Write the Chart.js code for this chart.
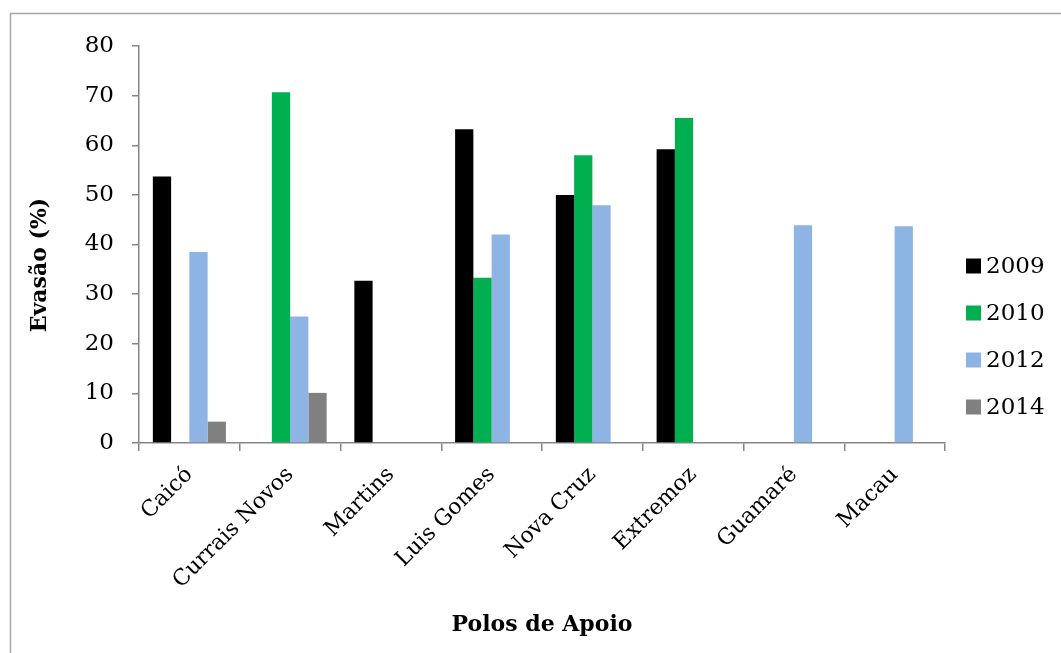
<!DOCTYPE html>
<html>
<head>
<meta charset="utf-8">
<title>Evasão por polo de apoio</title>
<script src="https://cdn.jsdelivr.net/npm/chart.js@4.4.1/dist/chart.umd.min.js"></script>
<style>
  html, body { margin: 0; padding: 0; background: #ffffff; }
  #wrap { position: relative; width: 1061px; height: 653px; }
</style>
</head>
<body>
<div id="wrap"><canvas id="chart" width="1061" height="653"></canvas></div>
<script>
// Polos de apoio (categorias do eixo X)
const polos = ['Caicó', 'Currais Novos', 'Martins', 'Luis Gomes', 'Nova Cruz', 'Extremoz', 'Guamaré', 'Macau'];

// Taxa de evasão (%) por ano; null = sem turma naquele ano
const ano2009 = [53.7, null, 32.7, 63.2, 50.0, 59.2, null, null];
const ano2010 = [null, 70.7, null, 33.3, 58.0, 65.5, null, null];
const ano2012 = [38.5, 25.5, null, 42.0, 47.9, null, 43.9, 43.7];
const ano2014 = [4.3, 10.1, null, null, null, null, null, null];

// Valores do eixo Y
const yMin = 0;
const yMax = 80;
const yStep = 10;

const anos = ['2009', '2010', '2012', '2014'];
const cores = ['#000000', '#00B050', '#8EB4E3', '#808080'];

const AXIS_GRAY = '#868686';
const SERIF = '"DejaVu Serif", "Liberation Serif", serif';

// Moldura, títulos dos eixos e legenda desenhados sobre o canvas
const decoracao = {
  id: 'decoracao',
  beforeDraw(chart) {
    const ctx = chart.ctx;
    ctx.save();
    ctx.strokeStyle = '#a6a6a6';
    ctx.lineWidth = 1.5;
    ctx.beginPath();
    ctx.moveTo(10.5, 700);
    ctx.lineTo(10.5, 13.5);
    ctx.lineTo(1100, 13.5);
    ctx.stroke();
    ctx.restore();
  },
  afterDraw(chart) {
    const ctx = chart.ctx;
    const area = chart.chartArea;
    ctx.save();
    ctx.fillStyle = '#000000';

    // Título do eixo X
    ctx.font = 'bold 22px ' + SERIF;
    ctx.textAlign = 'center';
    ctx.textBaseline = 'alphabetic';
    ctx.fillText('Polos de Apoio', (area.left + area.right) / 2, 631);

    // Título do eixo Y
    ctx.save();
    ctx.translate(46, 265);
    ctx.rotate(-Math.PI / 2);
    ctx.fillText('Evasão (%)', 0, 0);
    ctx.restore();

    // Legenda
    ctx.font = '23px ' + SERIF;
    ctx.textAlign = 'left';
    ctx.textBaseline = 'middle';
    chart.data.datasets.forEach((ds, i) => {
      const cy = 266 + i * 47;
      ctx.fillStyle = ds.backgroundColor;
      ctx.fillRect(966, cy - 7.5, 15, 15);
      ctx.fillStyle = '#000000';
      ctx.fillText(ds.label, 986, cy + 1);
    });
    ctx.restore();
  }
};

new Chart(document.getElementById('chart'), {
  type: 'bar',
  data: {
    labels: polos,
    datasets: [ano2009, ano2010, ano2012, ano2014].map((valores, i) => ({
      label: anos[i],
      data: valores,
      backgroundColor: cores[i],
      borderWidth: 0,
      barPercentage: 1.0,
      categoryPercentage: 0.725
    }))
  },
  options: {
    responsive: false,
    animation: false,
    devicePixelRatio: 1,
    layout: { padding: { top: 46, right: 116, bottom: 0, left: 0 } },
    plugins: {
      legend: { display: false },
      title: { display: false },
      tooltip: { enabled: false }
    },
    scales: {
      x: {
        afterFit(scale) { scale.height = 210; },
        grid: {
          display: true,
          drawOnChartArea: false,
          drawTicks: true,
          tickLength: 8,
          color: AXIS_GRAY,
          lineWidth: 1.5,
          offset: true
        },
        border: { color: AXIS_GRAY, width: 1.5 },
        ticks: {
          color: '#000000',
          font: { family: SERIF, size: 22 },
          minRotation: 45,
          maxRotation: 45,
          autoSkip: false,
          padding: 11
        }
      },
      y: {
        min: yMin,
        max: yMax,
        afterFit(scale) { scale.width = 139; },
        grid: {
          display: true,
          drawOnChartArea: false,
          drawTicks: true,
          tickLength: 7,
          color: AXIS_GRAY,
          lineWidth: 1.5
        },
        border: { color: AXIS_GRAY, width: 1.5 },
        ticks: {
          stepSize: yStep,
          color: '#000000',
          font: { family: SERIF, size: 23 },
          padding: 18
        }
      }
    }
  },
  plugins: [decoracao]
});
</script>
</body>
</html>
